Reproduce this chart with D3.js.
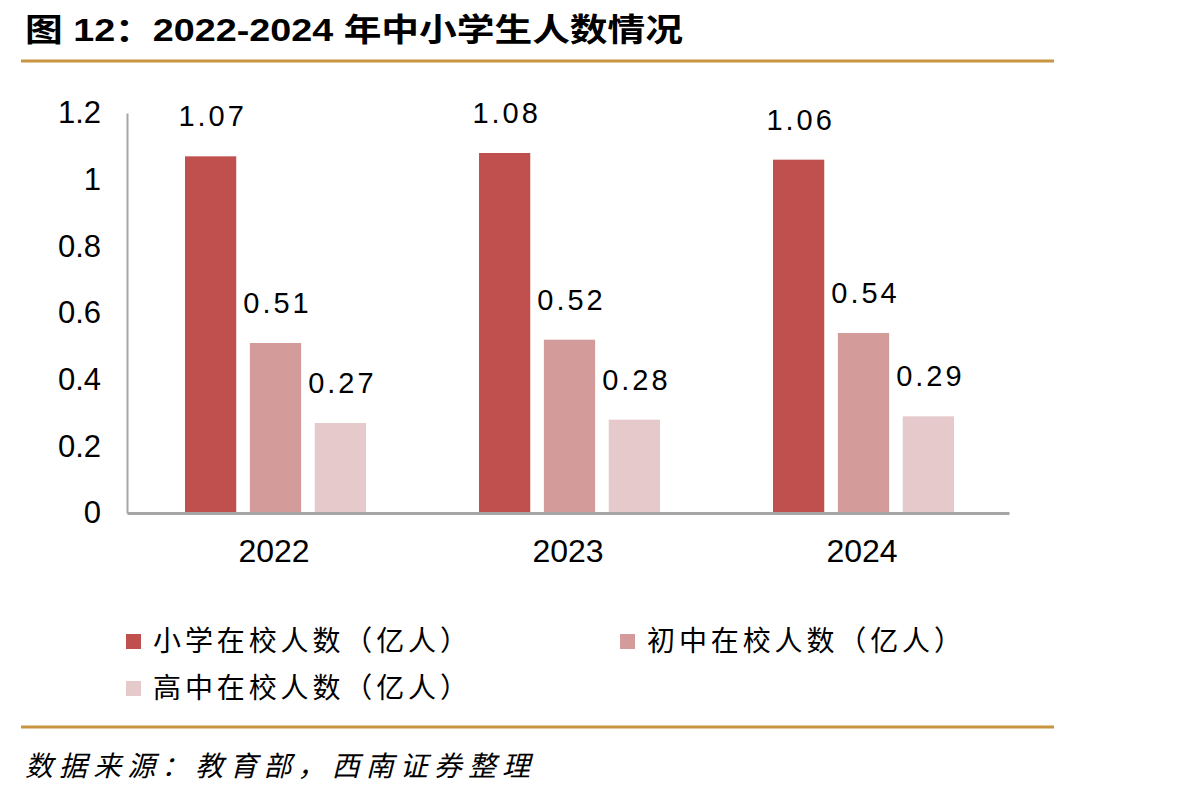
<!DOCTYPE html>
<html>
<head>
<meta charset="utf-8">
<script src="https://cdn.jsdelivr.net/npm/d3@7/dist/d3.min.js"></script>
<style>
  body { margin: 0; background: #fff; }
  svg { display: block; }
</style>
</head>
<body>
<div id="chart"></div>
<script>
// Data
const years = ["2022", "2023", "2024"];
const seriesNames = ["小学在校人数（亿人）", "初中在校人数（亿人）", "高中在校人数（亿人）"];
const primary = [1.07, 1.08, 1.06];
const junior = [0.51, 0.52, 0.54];
const senior = [0.27, 0.28, 0.29];
const yTicks = [0, 0.2, 0.4, 0.6, 0.8, 1, 1.2];

const colors = ["#C0504D", "#D49B9B", "#E6CACB"];
const gold = "#C8943F";
const latin = "'Liberation Sans', Arial, 'Noto Sans CJK SC', sans-serif";
const cjk = "'Noto Sans CJK SC', 'Liberation Sans', sans-serif";

const width = 1204;
const height = 796;
const plot = { left: 127, right: 1009, top: 113, bottom: 513 };

const svg = d3.select("#chart").append("svg")
  .attr("width", width)
  .attr("height", height);

// Title and rules
svg.append("text")
  .attr("x", 25)
  .attr("y", 41)
  .attr("font-family", latin)
  .attr("font-weight", "bold")
  .attr("font-size", 32)
  .attr("textLength", 658)
  .attr("lengthAdjust", "spacingAndGlyphs")
  .text("图 12：2022-2024 年中小学生人数情况");

svg.append("line")
  .attr("x1", 21).attr("x2", 1054)
  .attr("y1", 61).attr("y2", 61)
  .attr("stroke", gold).attr("stroke-width", 3);

svg.append("line")
  .attr("x1", 21).attr("x2", 1054)
  .attr("y1", 727).attr("y2", 727)
  .attr("stroke", gold).attr("stroke-width", 3);

svg.append("text")
  .attr("x", 25)
  .attr("y", 776)
  .attr("font-family", cjk)
  .attr("font-style", "italic")
  .attr("font-size", 28)
  .attr("textLength", 505)
  .attr("lengthAdjust", "spacing")
  .text("数据来源：教育部，西南证券整理");

// Scales
const x0 = d3.scaleBand().domain(years).range([plot.left, plot.right]);
const x1 = d3.scaleBand().domain(d3.range(3)).range([-89, 92]).paddingInner(0.21);
const y = d3.scaleLinear().domain([0, 1.2]).range([plot.bottom, plot.top]);

const rows = years.map((yr, i) => ({ year: yr, values: [primary[i], junior[i], senior[i]] }));

// Y axis
const yAxis = svg.append("g")
  .attr("transform", `translate(${plot.left},0)`)
  .call(d3.axisLeft(y).tickValues(yTicks).tickSize(0).tickPadding(26).tickFormat(d3.format("~g")));
yAxis.select(".domain").attr("stroke", "#A6A6A6").attr("stroke-width", 2);
yAxis.selectAll("text")
  .attr("font-family", latin)
  .attr("font-size", 31)
  .attr("fill", "#000");

// Bars
const groups = svg.selectAll(".grp")
  .data(rows)
  .join("g")
  .attr("class", "grp")
  .attr("transform", d => `translate(${x0(d.year) + x0.bandwidth() / 2},0)`);

groups.selectAll("rect")
  .data(d => d.values.map((v, k) => ({ k, v })))
  .join("rect")
  .attr("x", d => x1(d.k))
  .attr("width", x1.bandwidth())
  .attr("y", d => y(d.v))
  .attr("height", d => y(0) - y(d.v))
  .attr("fill", d => colors[d.k]);

groups.selectAll(".lbl")
  .data(d => d.values.map((v, k) => ({ k, v })))
  .join("text")
  .attr("class", "lbl")
  .attr("x", d => x1(d.k) + x1.bandwidth() / 2 + 2)
  .attr("y", d => y(d.v) - 30)
  .attr("text-anchor", "middle")
  .attr("font-family", latin)
  .attr("font-size", 29)
  .attr("letter-spacing", 3)
  .attr("fill", "#000")
  .text(d => d3.format(".2f")(d.v));

// X axis
const xAxis = svg.append("g")
  .attr("transform", `translate(0,${plot.bottom})`)
  .call(d3.axisBottom(x0).tickSize(0).tickPadding(26));
xAxis.select(".domain").attr("stroke", "#A6A6A6").attr("stroke-width", 3);
xAxis.selectAll("text")
  .attr("font-family", latin)
  .attr("font-size", 32)
  .attr("fill", "#000");

// Legend
const legendPos = [[126, 634], [620, 634], [126, 681]];
const legend = svg.selectAll(".leg")
  .data(seriesNames)
  .join("g")
  .attr("class", "leg")
  .attr("transform", (d, i) => `translate(${legendPos[i][0]},${legendPos[i][1]})`);

legend.append("rect")
  .attr("width", 15)
  .attr("height", 15)
  .attr("fill", (d, i) => colors[i]);

legend.append("text")
  .attr("x", 27)
  .attr("y", 17)
  .attr("font-family", cjk)
  .attr("font-size", 28)
  .attr("textLength", 315)
  .attr("lengthAdjust", "spacing")
  .attr("fill", "#000")
  .text(d => d);
</script>
</body>
</html>
